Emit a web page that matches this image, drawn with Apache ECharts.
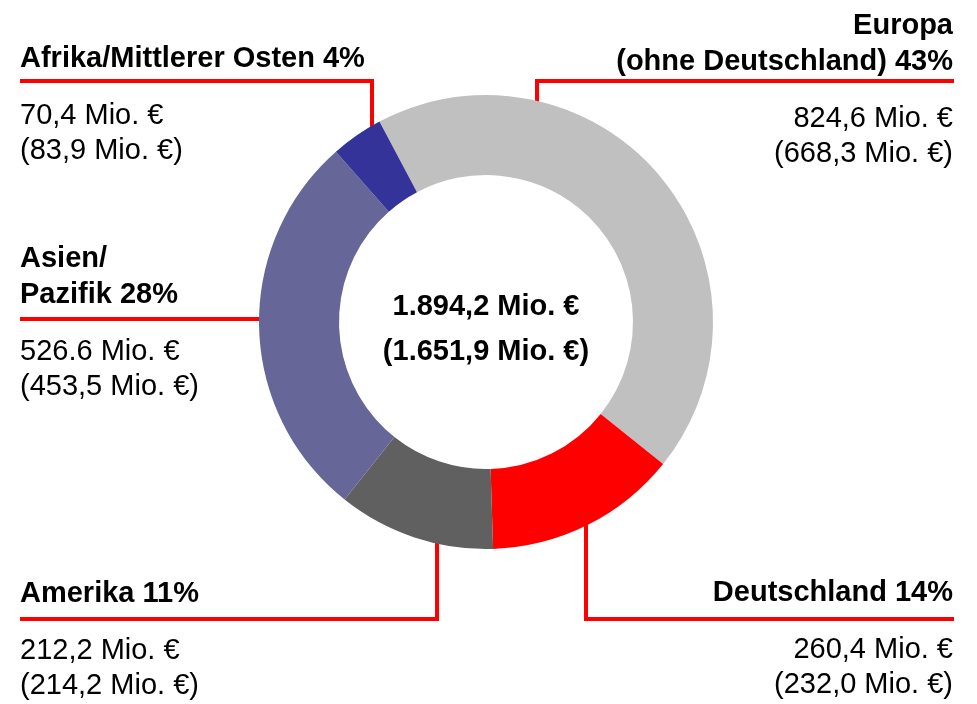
<!DOCTYPE html>
<html>
<head>
<meta charset="utf-8">
<script src="https://cdn.jsdelivr.net/npm/echarts@6/dist/echarts.min.js"></script>
<style>
    html, body { margin: 0; padding: 0; background: #fff; }
    #chart { width: 977px; height: 704px; }
</style>
</head>
<body>
<div id="chart"></div>
<script>
// chart data
const regions = ['Europa\n(ohne Deutschland)', 'Deutschland', 'Amerika', 'Asien/\nPazifik', 'Afrika/Mittlerer Osten'];
const values = [824.6, 260.4, 212.2, 526.6, 70.4];
const prevValues = [668.3, 232.0, 214.2, 453.5, 83.9];
const shares = [43, 14, 11, 28, 4];
const valueLabels = ['824,6', '260,4', '212,2', '526.6', '70,4'];
const colors = ['#c0c0c0', '#ff0000', '#606060', '#666699', '#333399'];

const FONT = "'Liberation Sans', Arial, sans-serif";

// where each label block starts and how its red leader line runs
const labelSpots = [
    {x: 953, top: 8, align: 'right', line: [[537, 168], [537, 81], [954, 81]]},
    {x: 953, top: 575, align: 'right', line: [[586, 524], [586, 619], [954, 619]]},
    {x: 20, top: 576, align: 'left', line: [[437, 519], [437, 619], [20, 619]]},
    {x: 20, top: 241, align: 'left', line: [[323, 319], [170, 319], [20, 319]]},
    {x: 20, top: 41, align: 'left', line: [[372, 173], [372, 81], [20, 81]]}
];

// 1894.2 -> "1.894,2"
function fmt(v)
{
    let parts = v.toFixed(1).split('.');
    parts[0] = parts[0].replace(/\B(?=(\d{3})+(?!\d))/g, '.');
    return parts.join(',');
}

let total = values.reduce((a, b) => a + b, 0);
let prevTotal = prevValues.reduce((a, b) => a + b, 0);

let myChart = echarts.init(document.getElementById('chart'));

let option = {
    animation: false,
    graphic: [{
        type: 'text',
        x: 486,
        y: 329,
        style: {
            text: fmt(total) + ' Mio. €\n(' + fmt(prevTotal) + ' Mio. €)',
            fontSize: 29,
            fontWeight: 'bold',
            fontFamily: FONT,
            lineHeight: 45,
            align: 'center',
            verticalAlign: 'middle',
            fill: '#000'
        }
    }],
    series: [{
        type: 'pie',
        center: [486, 322],
        radius: [147, 227],
        startAngle: 118,
        clockwise: true,
        avoidLabelOverlap: false,
        emphasis: {disabled: true},
        itemStyle: {borderWidth: 0},
        data: regions.map((name, i) => ({
            name: name,
            value: values[i],
            itemStyle: {color: colors[i]}
        })),
        label: {
            show: true,
            position: 'outside',
            color: '#000',
            fontFamily: FONT,
            formatter: function (p)
            {
                let i = p.dataIndex;
                let head = (regions[i] + ' ' + shares[i] + '%').split('\n')
                    .map(t => '{h|' + t + '}').join('\n');
                return head + '\n{gap| }\n{v|' + valueLabels[i] + ' Mio. €}\n{v|(' + fmt(prevValues[i]) + ' Mio. €)}';
            },
            rich: {
                h: {fontSize: 29, fontWeight: 'bold', lineHeight: 36, fontFamily: FONT, color: '#000'},
                gap: {fontSize: 10, lineHeight: 21},
                v: {fontSize: 29, lineHeight: 35, fontFamily: FONT, color: '#000'}
            }
        },
        labelLine: {
            show: true,
            smooth: false,
            lineStyle: {color: '#ff0000', width: 4, join: 'miter'}
        },
        labelLayout: function (params)
        {
            let s = labelSpots[params.dataIndex];
            return {
                x: s.x,
                y: s.top,
                align: s.align,
                verticalAlign: 'top',
                labelLinePoints: s.line
            };
        }
    }]
};

myChart.setOption(option);
</script>
</body>
</html>
